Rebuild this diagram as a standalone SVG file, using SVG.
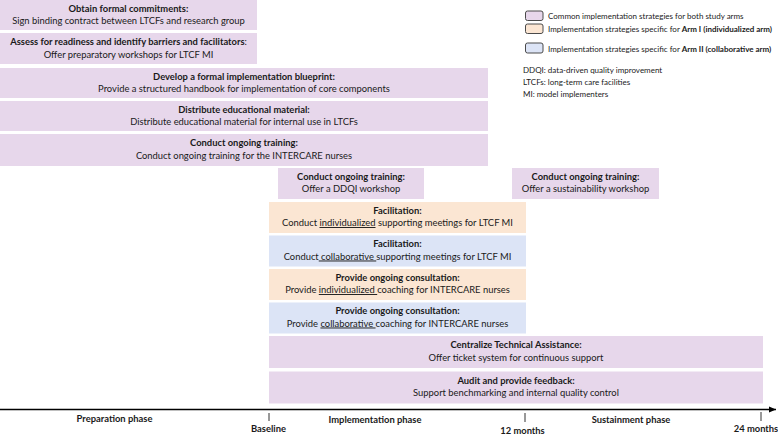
<svg xmlns="http://www.w3.org/2000/svg" width="778" height="436" viewBox="0 0 778 436">
<defs>
<style>
text{font-family:Lato,"Liberation Sans",sans-serif;fill:#1a1a1a}
.t{font-size:9.4px;font-weight:bold;text-anchor:middle}
.s{font-size:9.4px;text-anchor:middle;white-space:pre}
.u{text-decoration:underline}
.p{fill:#e7d7eb}
.o{fill:#fbe6d3}
.b{fill:#dce4f6}
.sw{stroke:#4a4a4a;stroke-width:1}
.lg{font-size:8px}
.ax{font-size:9.4px;font-weight:bold;text-anchor:middle}
.tick{stroke:#333;stroke-width:1}
</style>
<marker id="arr" markerWidth="8" markerHeight="8" refX="7" refY="4" orient="auto" markerUnits="userSpaceOnUse">
<path d="M0,1 L7,4 L0,7 Z" fill="#000"/>
</marker>
</defs>
<rect width="778" height="436" fill="#fff"/>

<g id="n1"><rect class="p" x="0" y="0" width="257" height="30"/>
<text class="t" x="128.5" y="11.5">Obtain formal commitments:</text>
<text class="s" x="128.5" y="24">Sign binding contract between LTCFs and research group</text></g>

<g id="n2"><rect class="p" x="0" y="33" width="257" height="31"/>
<text class="t" x="128.5" y="45">Assess for readiness and identify barriers and facilitators<tspan font-weight="normal">:</tspan></text>
<text class="s" x="128.5" y="57.5">Offer preparatory workshops for LTCF MI</text></g>

<g id="n3"><rect class="p" x="0" y="68" width="488" height="30"/>
<text class="t" x="244" y="79.5">Develop a formal implementation blueprint:</text>
<text class="s" x="244" y="92">Provide a structured handbook for implementation of core components</text></g>

<g id="n4"><rect class="p" x="0" y="101" width="488" height="30"/>
<text class="t" x="244" y="112.5">Distribute educational material:</text>
<text class="s" x="244" y="125">Distribute educational material for internal use in LTCFs</text></g>

<g id="n5"><rect class="p" x="0" y="134" width="488" height="32"/>
<text class="t" x="244" y="146">Conduct ongoing training:</text>
<text class="s" x="244" y="158.5">Conduct ongoing training for the INTERCARE nurses</text></g>

<g id="n6"><rect class="p" x="278" y="168" width="146" height="31"/>
<text class="t" x="351" y="179.5">Conduct ongoing training:</text>
<text class="s" x="351" y="192">Offer a DDQI workshop</text></g>

<g id="n7"><rect class="p" x="512" y="168" width="147" height="31"/>
<text class="t" x="585.5" y="179.5">Conduct ongoing training:</text>
<text class="s" x="585.5" y="192">Offer a sustainability workshop</text></g>

<g id="n8"><rect class="o" x="269" y="202" width="257" height="31"/>
<text class="t" x="397.5" y="213.5">Facilitation:</text>
<text class="s" x="397.5" y="226">Conduct <tspan class="u">individualized</tspan> supporting meetings for LTCF MI</text></g>

<g id="n9"><rect class="b" x="269" y="235.5" width="257" height="31"/>
<text class="t" x="397.5" y="247">Facilitation:</text>
<text class="s" x="397.5" y="259.5">Conduct<tspan class="u"> collaborative </tspan>supporting meetings for LTCF MI</text></g>

<g id="n10"><rect class="o" x="269" y="269" width="257" height="31"/>
<text class="t" x="397.5" y="280.5">Provide ongoing consultation:</text>
<text class="s" x="397.5" y="293">Provide <tspan class="u">individualized </tspan>coaching for INTERCARE nurses</text></g>

<g id="n11"><rect class="b" x="269" y="302.5" width="257" height="31"/>
<text class="t" x="397.5" y="314">Provide ongoing consultation:</text>
<text class="s" x="397.5" y="326.5">Provide <tspan class="u">collaborative </tspan>coaching for INTERCARE nurses</text></g>

<g id="n12"><rect class="p" x="269" y="336" width="494" height="32"/>
<text class="t" x="516" y="348">Centralize Technical Assistance:</text>
<text class="s" x="516" y="360.5">Offer ticket system for continuous support</text></g>

<g id="n13"><rect class="p" x="269" y="371.5" width="494" height="32"/>
<text class="t" x="516" y="383.5">Audit and provide feedback:</text>
<text class="s" x="516" y="396">Support benchmarking and internal quality control</text></g>

<g id="legend">
<rect class="p sw" x="525.5" y="11" width="17.5" height="9.5" rx="2"/>
<rect class="o sw" x="525.5" y="24" width="17.5" height="9.5" rx="2"/>
<rect class="b sw" x="525.5" y="43" width="17.5" height="10" rx="2"/>
<text class="lg" x="548" y="18.5">Common implementation strategies for both study arms</text>
<text class="lg" x="548" y="31.5">Implementation strategies specific for <tspan font-weight="bold">Arm I (individualized arm)</tspan></text>
<text class="lg" x="548" y="52">Implementation strategies specific for <tspan font-weight="bold">Arm II (collaborative arm)</tspan></text>
<text class="lg" x="523" y="73">DDQI: data-driven quality improvement</text>
<text class="lg" x="523" y="85">LTCFs: long-term care facilities</text>
<text class="lg" x="523" y="97">MI: model implementers</text>
</g>

<g id="connectors">
<line x1="0" y1="409.5" x2="776" y2="409.5" stroke="#000" stroke-width="1.4" marker-end="url(#arr)"/>
<line class="tick" x1="269" y1="413" x2="269" y2="421"/>
<line class="tick" x1="525" y1="413" x2="525" y2="422"/>
<line class="tick" x1="761" y1="412" x2="761" y2="421"/>
</g>

<g id="axis-labels">
<text class="ax" x="114.5" y="422">Preparation phase</text>
<text class="ax" x="268.5" y="432">Baseline</text>
<text class="ax" x="375" y="423">Implementation phase</text>
<text class="ax" x="522.5" y="434">12 months</text>
<text class="ax" x="631" y="423">Sustainment phase</text>
<text class="ax" x="756" y="432">24 months</text>
</g>
</svg>
